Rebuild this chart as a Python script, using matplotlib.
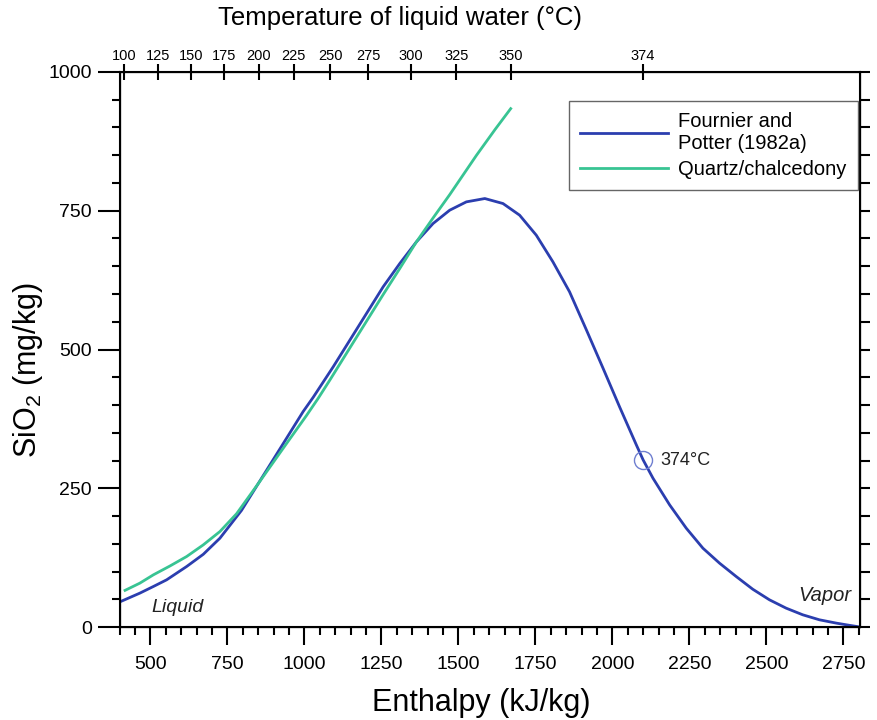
import matplotlib
matplotlib.use("Agg")
import matplotlib.pyplot as plt
from matplotlib.ticker import MultipleLocator

plt.rcParams['font.family'] = ['Liberation Sans', 'DejaVu Sans']

# Fournier and Potter (1982a) curve, enthalpy (kJ/kg) vs SiO2 (mg/kg)
fp_enthalpy = [400, 466, 510, 553, 618, 672, 726, 796, 850, 931, 996, 1029,
               1094, 1148, 1202, 1256, 1310, 1364, 1418, 1472, 1526, 1586,
               1645, 1699, 1753, 1807, 1861, 1916, 1970, 2024, 2078, 2100,
               2132, 2186, 2240, 2294, 2348, 2402, 2456, 2510, 2564, 2618,
               2672, 2727, 2770, 2804]
fp_silica = [45, 61, 73, 85, 109, 131, 160, 210, 258, 330, 388, 414,
             469, 517, 565, 613, 655, 694, 727, 751, 766, 772,
             763, 742, 706, 658, 604, 535, 466, 396, 328, 301,
             268, 220, 178, 142, 115, 91, 68, 49, 34, 22,
             13, 7, 3, 0]

# quartz/chalcedony curve
qc_enthalpy = [418, 466, 510, 564, 618, 672, 726, 780, 850, 939, 1007, 1045,
               1083, 1148, 1202, 1256, 1310, 1364, 1418, 1472, 1559, 1620, 1670]
qc_silica = [66, 79, 94, 110, 127, 148, 172, 204, 258, 328, 381, 412,
             445, 503, 551, 599, 646, 694, 737, 779, 850, 897, 934]

# top axis: liquid water temperature at saturation enthalpy
temp_enthalpy = [414, 524, 631, 739, 852, 965, 1085, 1208, 1345, 1494, 1670, 2099]
temp_labels = ['100', '125', '150', '175', '200', '225', '250', '275',
               '300', '325', '350', '374']

crit_point = (2100, 301)

blue = '#2b3eaf'
green = '#38c493'

fig = plt.figure(figsize=(8.77, 7.2), dpi=100)
ax = fig.add_axes([119.5 / 877, 1 - 627 / 720, 740.5 / 877, 555 / 720])

ax.plot(fp_enthalpy, fp_silica, color=blue, lw=2.0, label='Fournier and\nPotter (1982a)')
ax.plot(qc_enthalpy, qc_silica, color=green, lw=2.0, label='Quartz/chalcedony')
ax.plot(*crit_point, marker='o', ms=13, mfc='none', mec='#6f7fd0', mew=1.0)
ax.text(2155, 300, '374°C', fontsize=13, va='center', ha='left', color='#222222')

ax.text(505, 36, 'Liquid', fontsize=14, style='italic', ha='left', va='center', color='#222222')
ax.text(2775, 57, 'Vapor', fontsize=14.5, style='italic', ha='right', va='center', color='#222222')

ax.set_xlim(400, 2804)
ax.set_ylim(0, 1000)

for s in ax.spines.values():
    s.set_linewidth(1.5)

ax.xaxis.set_major_locator(MultipleLocator(250))
ax.xaxis.set_minor_locator(MultipleLocator(50))
ax.yaxis.set_major_locator(MultipleLocator(250))
ax.yaxis.set_minor_locator(MultipleLocator(50))
ax.set_xticks([500, 750, 1000, 1250, 1500, 1750, 2000, 2250, 2500, 2750])

ax.tick_params(axis='x', which='major', direction='out', length=13, width=1.5,
               labelsize=14, pad=8)
ax.tick_params(axis='x', which='minor', direction='out', length=6, width=1.5)
ax.tick_params(axis='y', which='major', direction='out', length=16, width=1.5,
               labelsize=14, pad=4)
ax.tick_params(axis='y', which='minor', direction='out', length=6, width=1.5)

# right side: short outward ticks every 50
axr = ax.twinx()
axr.set_ylim(0, 1000)
axr.yaxis.set_major_locator(MultipleLocator(50))
axr.tick_params(axis='y', direction='out', length=7, width=1.5, labelright=False)

# top: temperature of liquid water
axt = ax.twiny()
axt.set_xlim(400, 2804)
axt.set_xticks(temp_enthalpy)
axt.set_xticklabels(temp_labels)
axt.tick_params(axis='x', direction='inout', length=11, width=1.5, labelsize=10.5, pad=1)

leg = ax.legend(loc='upper right', bbox_to_anchor=(0.997, 0.948), borderaxespad=0,
                fontsize=14.5, frameon=True, fancybox=False, edgecolor='#666666',
                framealpha=1, handlelength=4.4, handletextpad=0.5, borderpad=0.55,
                labelspacing=0.35)
leg.get_frame().set_linewidth(1.0)

fig.text(400 / 877, 1 - 18 / 720, 'Temperature of liquid water (°C)', fontsize=18.5,
         ha='center', va='center')
fig.text(481 / 877, 1 - 703 / 720, 'Enthalpy (kJ/kg)', fontsize=22, ha='center', va='center')
fig.text(28 / 877, 350 / 720, r'SiO$_{\mathregular{2}}$ (mg/kg)', fontsize=22,
         rotation=90, ha='center', va='center')

fig.savefig('out.png', dpi=100)
